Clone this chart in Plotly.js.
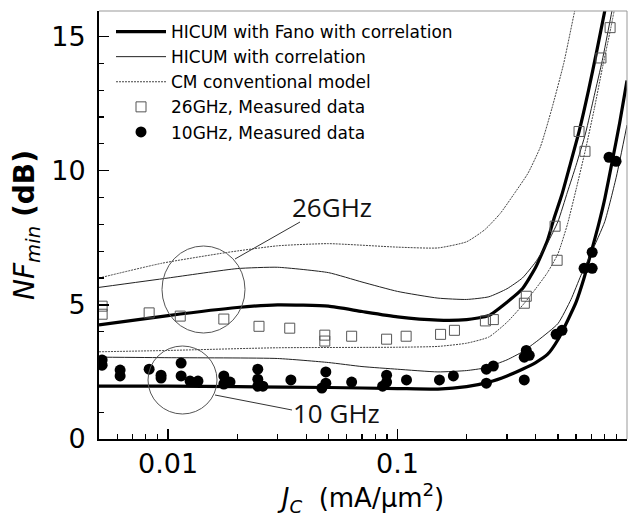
<!DOCTYPE html>
<html>
<head>
<meta charset="utf-8">
<script src="https://cdn.plot.ly/plotly-3.0.1.min.js"></script>
<style>html,body{margin:0;padding:0;background:#fff;}#chart{width:629px;height:520px;}</style>
</head>
<body>
<div id="chart"></div>
<script>
// ---- data ----
var fano26X = [0.005, 0.01, 0.02, 0.03, 0.05, 0.07, 0.1, 0.15, 0.2, 0.25, 0.3, 0.35, 0.4, 0.45, 0.48, 0.52, 0.56, 0.62, 0.68, 0.74, 0.8, 0.85];
var fano26Y = [4.25, 4.6, 4.9, 5.0, 4.95, 4.75, 4.55, 4.43, 4.45, 4.6, 5.1, 5.6, 6.4, 7.4, 8.2, 9.1, 10.1, 11.5, 13.0, 14.5, 15.95, 17.0];
var corr26X = [0.005, 0.01, 0.02, 0.03, 0.05, 0.07, 0.1, 0.15, 0.2, 0.25, 0.3, 0.35, 0.4, 0.45, 0.5, 0.55, 0.6, 0.66, 0.72, 0.78, 0.84, 0.88];
var corr26Y = [5.65, 6.0, 6.35, 6.4, 6.2, 5.85, 5.5, 5.25, 5.2, 5.3, 5.6, 6.0, 6.6, 7.3, 8.1, 9.2, 10.2, 11.4, 12.8, 14.1, 15.5, 16.4];
var cm26X = [0.005, 0.0094, 0.018, 0.03, 0.05, 0.1, 0.15, 0.2, 0.24, 0.28, 0.32, 0.37, 0.42, 0.47, 0.53, 0.59, 0.62];
var cm26Y = [6.0, 6.55, 6.95, 7.2, 7.28, 7.15, 7.12, 7.35, 7.8, 8.4, 9.1, 9.9, 10.9, 12.3, 14.0, 15.9, 16.7];

var fano10X = [0.005, 0.01, 0.02, 0.05, 0.1, 0.15, 0.2, 0.25, 0.3, 0.35, 0.4, 0.45, 0.5, 0.55, 0.6, 0.65, 0.7, 0.75, 0.8, 0.86, 0.93, 1.0];
var fano10Y = [1.97, 1.97, 1.95, 1.92, 1.88, 1.86, 1.95, 2.12, 2.35, 2.6, 2.85, 3.15, 3.7, 4.4, 5.1, 6.0, 7.0, 7.95, 8.95, 10.3, 11.8, 13.36];
var corr10X = [0.005, 0.01, 0.03, 0.05, 0.07, 0.1, 0.15, 0.2, 0.24, 0.3, 0.35, 0.41, 0.5, 0.57, 0.63, 0.7, 0.8, 0.9, 1.0];
var corr10Y = [3.05, 3.03, 3.0, 2.85, 2.7, 2.6, 2.5, 2.55, 2.65, 2.95, 3.25, 3.68, 4.3, 5.2, 6.1, 6.95, 8.1, 9.8, 11.7];
var cm10X = [0.005, 0.01, 0.03, 0.1, 0.15, 0.2, 0.25, 0.3, 0.357, 0.4, 0.45, 0.5, 0.55, 0.6, 0.66, 0.72, 0.78, 0.84, 0.9];
var cm10Y = [3.25, 3.3, 3.4, 3.42, 3.45, 3.57, 3.8, 4.35, 5.06, 5.6, 6.2, 6.9, 8.0, 9.3, 10.8, 12.3, 13.8, 15.1, 16.4];

var meas26X = [0.00516, 0.00516, 0.00827, 0.0113, 0.0175, 0.0249, 0.0339, 0.0482, 0.0482, 0.0631, 0.0896, 0.109, 0.154, 0.177, 0.2415, 0.2615, 0.357, 0.364, 0.486, 0.496, 0.618, 0.656, 0.77, 0.844];
var meas26Y = [4.95, 4.65, 4.7, 4.58, 4.47, 4.2, 4.13, 3.87, 3.65, 3.83, 3.72, 3.83, 3.9, 4.05, 4.4, 4.45, 5.06, 5.32, 7.93, 6.66, 11.46, 10.72, 14.2, 15.33];
var meas10X = [0.00516, 0.00516, 0.00618, 0.00618, 0.00827, 0.00932, 0.00932, 0.0114, 0.0114, 0.01247, 0.0135, 0.0175, 0.0175, 0.01862, 0.0246, 0.0246, 0.0246, 0.0259, 0.0343, 0.0487, 0.0487, 0.0468, 0.0631, 0.0896, 0.0896, 0.0861, 0.1094, 0.1523, 0.1751, 0.2438, 0.2615, 0.2438, 0.364, 0.375, 0.3566, 0.3566, 0.491, 0.521, 0.650, 0.705, 0.705, 0.835, 0.896];
var meas10Y = [2.94, 2.75, 2.57, 2.35, 2.6, 2.38, 2.27, 2.83, 2.35, 2.16, 2.16, 2.35, 2.05, 2.12, 2.6, 2.23, 1.97, 1.97, 2.2, 2.5, 2.08, 1.9, 2.12, 2.38, 2.12, 1.97, 2.2, 2.2, 2.35, 2.6, 2.72, 2.08, 3.3, 3.12, 3.05, 2.2, 3.9, 4.05, 6.36, 6.36, 6.96, 10.5, 10.35];

var xTickVals = [0.01, 0.1, 1];
var xTickText = ['0.01', '0.1', '1'];
var yTickVals = [0, 5, 10, 15];
var yTickText = ['0', '5', '10', '15'];

var names = ['HICUM with Fano with correlation', 'HICUM with correlation', 'CM conventional model', '26GHz, Measured data', '10GHz, Measured data'];

// ---- styles ----
var FONT = 'DejaVu Sans, Liberation Sans, Arial, sans-serif';
var thick = {color: '#000', width: 3.2, shape: 'spline', smoothing: 0.5};
var thin = {color: '#222', width: 1, shape: 'spline', smoothing: 0.5};
var dotted = {color: '#444', width: 1, dash: '2px,1px', shape: 'spline', smoothing: 0.5};

var traces = [
  {x: fano26X, y: fano26Y, mode: 'lines', line: thick, name: names[0], legendrank: 1},
  {x: corr26X, y: corr26Y, mode: 'lines', line: thin, name: names[1], legendrank: 2},
  {x: cm26X, y: cm26Y, mode: 'lines', line: dotted, name: names[2], legendrank: 3},
  {x: fano10X, y: fano10Y, mode: 'lines', line: thick, showlegend: false},
  {x: corr10X, y: corr10Y, mode: 'lines', line: thin, showlegend: false},
  {x: cm10X, y: cm10Y, mode: 'lines', line: dotted, showlegend: false},
  {x: meas26X, y: meas26Y, mode: 'markers', name: names[3], legendrank: 4,
   marker: {symbol: 'square-open', size: 10, color: '#555', line: {width: 1, color: '#555'}}},
  {x: meas10X, y: meas10Y, mode: 'markers', name: names[4], legendrank: 5,
   marker: {symbol: 'circle', size: 11, color: '#000'}}
];

function px(x) { return (x - 99) / 528; }
function py(y) { return (439 - y) / 428; }

var layout = {
  width: 629, height: 520,
  margin: {l: 99, r: 2, t: 11, b: 81},
  paper_bgcolor: '#fff', plot_bgcolor: '#fff',
  font: {family: FONT, color: '#000'},
  xaxis: {
    type: 'log', range: [Math.log10(0.005), 0],
    tickvals: xTickVals, ticktext: xTickText,
    ticks: 'inside', ticklen: 10, tickwidth: 1.5, tickcolor: '#000',
    minor: {ticks: 'inside', ticklen: 5, tickwidth: 1.2, tickcolor: '#000', dtick: 'D1', showgrid: false},
    showline: true, linecolor: '#000', linewidth: 2, showgrid: false, zeroline: false,
    tickfont: {size: 27, family: FONT},
    title: {text: '<i>J</i><sub><i>C</i></sub>&nbsp; (mA/μm<sup>2</sup>)', font: {size: 26, family: FONT}, standoff: 9}
  },
  yaxis: {
    range: [0, 15.95],
    tickvals: yTickVals, ticktext: yTickText,
    ticks: 'inside', ticklen: 10, tickwidth: 1.5, tickcolor: '#000',
    minor: {ticks: 'inside', ticklen: 5, tickwidth: 1.2, tickcolor: '#000', dtick: 1, showgrid: false},
    showline: true, linecolor: '#000', linewidth: 2, showgrid: false, zeroline: false,
    ticklabelstandoff: 6,
    tickfont: {size: 27, family: FONT},
    title: {text: '<i>NF</i><sub><i>min</i></sub> <b>(dB)</b>', font: {size: 28, family: FONT}, standoff: 8}
  },
  legend: {
    x: px(111), y: py(14), xanchor: 'left', yanchor: 'top',
    bgcolor: 'rgba(0,0,0,0)', borderwidth: 0,
    itemwidth: 50,
    font: {size: 17, family: FONT, color: '#000'}
  },
  shapes: [
    {type: 'line', xref: 'paper', yref: 'paper', x0: 0, x1: 1, y0: 1, y1: 1, line: {color: '#999', width: 1}},
    {type: 'line', xref: 'paper', yref: 'paper', x0: 1, x1: 1, y0: 0, y1: 1, line: {color: '#999', width: 1}},
    {type: 'circle', xref: 'paper', yref: 'paper', x0: px(162), x1: px(245), y0: py(333), y1: py(246), line: {color: '#555', width: 1}},
    {type: 'circle', xref: 'paper', yref: 'paper', x0: px(148), x1: px(217), y0: py(414), y1: py(346), line: {color: '#555', width: 1}},
    {type: 'line', xref: 'paper', yref: 'paper', x0: px(235), y0: py(259), x1: px(300), y1: py(222), line: {color: '#333', width: 1}},
    {type: 'line', xref: 'paper', yref: 'paper', x0: px(215), y0: py(395), x1: px(292), y1: py(410), line: {color: '#333', width: 1}}
  ],
  annotations: [
    {xref: 'paper', yref: 'paper', x: px(332), y: py(207), xanchor: 'center', yanchor: 'middle', text: '26GHz', showarrow: false,
     font: {family: 'Open Sans, sans-serif', size: 26, color: '#111'}},
    {xref: 'paper', yref: 'paper', x: px(336), y: py(413), xanchor: 'center', yanchor: 'middle', text: '10 GHz', showarrow: false,
     font: {family: 'Open Sans, sans-serif', size: 26, color: '#111'}}
  ]
};

Plotly.newPlot('chart', traces, layout, {displayModeBar: false, staticPlot: true});
</script>
</body>
</html>
